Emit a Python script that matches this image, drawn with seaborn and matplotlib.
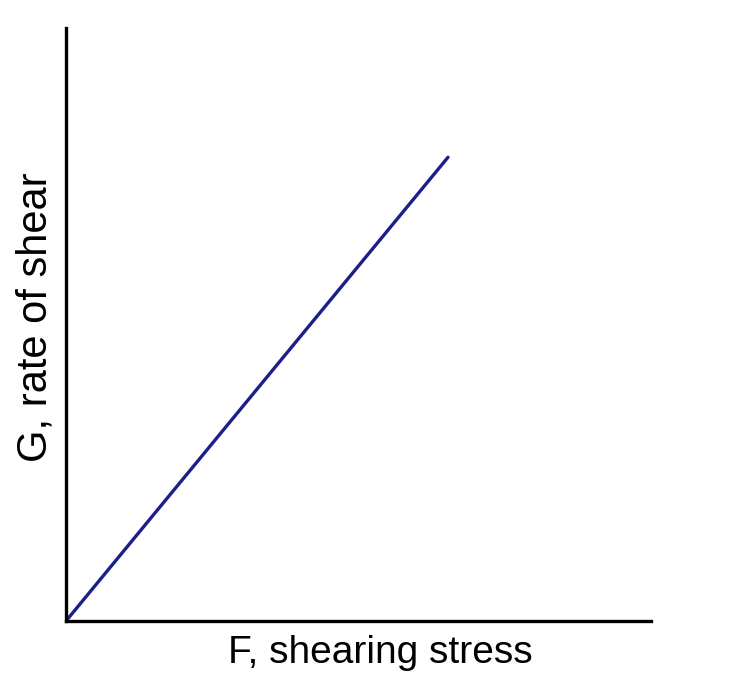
import matplotlib
matplotlib.use("Agg")
import matplotlib.pyplot as plt
import seaborn as sns
import pandas as pd

# straight line: rate of shear vs shearing stress
stress = [0.0, 6.53]
rate = [0.0, 7.82]

df = pd.DataFrame({"stress": stress, "rate": rate})

sns.set_style("white")
plt.rcParams['font.family'] = ['Liberation Sans', 'DejaVu Sans']

fig = plt.figure(figsize=(7.31, 6.89), dpi=100)
ax = fig.add_axes([66 / 731, (689 - 621) / 689, 585 / 731, 593 / 689])

sns.lineplot(data=df, x="stress", y="rate", ax=ax, color="#1c1f8a", linewidth=2.4)

ax.set_xlim(0, 10)
ax.set_ylim(0, 10)
ax.set_xticks([])
ax.set_yticks([])
for side in ["top", "right"]:
    ax.spines[side].set_visible(False)
for side in ["left", "bottom"]:
    ax.spines[side].set_color("black")
    ax.spines[side].set_linewidth(2.4)

ax.set_xlabel("F, shearing stress", fontsize=28, color="black")
ax.set_ylabel("G, rate of shear", fontsize=30, color="black")
ax.xaxis.set_label_coords((380 - 66) / 585, -(653 - 621) / 593)
ax.yaxis.set_label_coords(-(66 - 36) / 585, (621 - 317) / 593)
ax.xaxis.label.set_va("center")
ax.yaxis.label.set_va("center")

fig.savefig("out.png", dpi=100)
